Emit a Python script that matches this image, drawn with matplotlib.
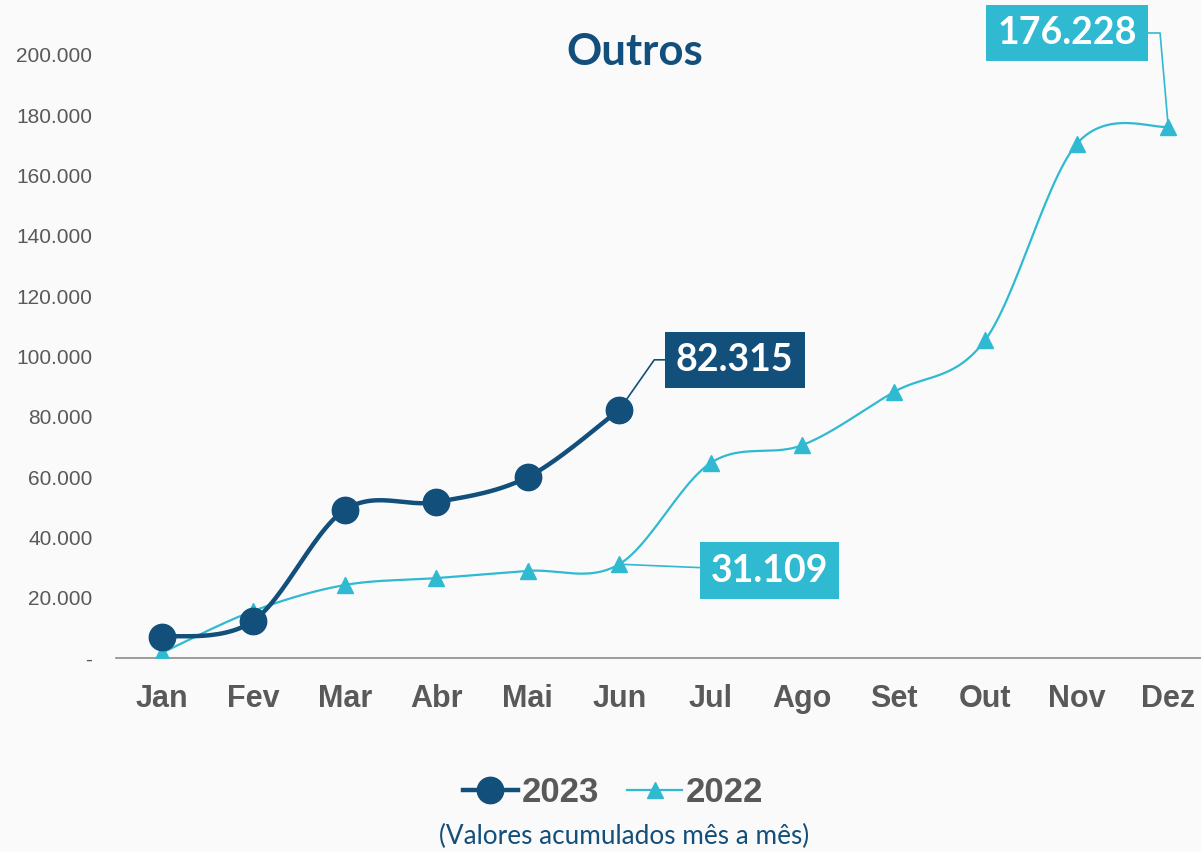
import matplotlib.pyplot as plt
import numpy as np

# dados
meses = ["Jan", "Fev", "Mar", "Abr", "Mai", "Jun", "Jul", "Ago", "Set", "Out", "Nov", "Dez"]
v2023 = [7000, 12300, 49100, 51700, 60000, 82315]
v2022 = [1700, 15600, 24200, 26500, 28900, 31109, 64700, 70600, 88200, 105500, 170500, 176228]
yticks = [0, 20000, 40000, 60000, 80000, 100000, 120000, 140000, 160000, 180000, 200000]

azul = "#124F7B"
ciano = "#2FBAD1"
cinza = "#595959"
fundo = "#FAFAFA"


def suave(x, y, n=30):
    # curva suavizada tipo Excel (Catmull-Rom em Bezier)
    x = np.asarray(x, float)
    y = np.asarray(y, float)
    px = np.concatenate([[x[0]], x, [x[-1]]])
    py = np.concatenate([[y[0]], y, [y[-1]]])
    xs, ys = [], []
    t = np.linspace(0, 1, n)
    for i in range(len(x) - 1):
        p0 = np.array([px[i + 1], py[i + 1]])
        p3 = np.array([px[i + 2], py[i + 2]])
        c1 = p0 + (np.array([px[i + 2], py[i + 2]]) - np.array([px[i], py[i]])) / 6
        c2 = p3 - (np.array([px[i + 3], py[i + 3]]) - np.array([px[i + 1], py[i + 1]])) / 6
        b = (((1 - t) ** 3)[:, None] * p0 + (3 * (1 - t) ** 2 * t)[:, None] * c1
             + (3 * (1 - t) * t ** 2)[:, None] * c2 + (t ** 3)[:, None] * p3)
        xs.extend(b[:, 0])
        ys.extend(b[:, 1])
    return xs, ys


fig = plt.figure(figsize=(12.01, 8.52), dpi=100, facecolor=fundo)
ax = fig.add_axes([116 / 1201, 1 - 658 / 852, 1 - 116 / 1201, (658 - 55) / 852])
ax.set_facecolor(fundo)

x22 = np.arange(len(v2022))
x23 = np.arange(len(v2023))

sx, sy = suave(x22, v2022)
ax.plot(sx, sy, color=ciano, lw=1.6, zorder=2)
ax.plot(x22, v2022, ls="none", marker="^", ms=12, color=ciano, zorder=3)

sx, sy = suave(x23, v2023)
ax.plot(sx, sy, color=azul, lw=3.2, zorder=4)
ax.plot(x23, v2023, ls="none", marker="o", ms=19, color=azul, zorder=5)

ax.set_xlim(-0.5, 11.5 - 13 / 91.45)
ax.set_ylim(0, 200000)
ax.set_xticks(x22)
ax.set_xticklabels(meses, fontsize=22, fontweight="bold", color=cinza, family="Liberation Sans")
ax.set_yticks(yticks)
ax.set_yticklabels(["-" if v == 0 else f"{v:,.0f}".replace(",", ".") for v in yticks],
                   fontsize=15, color=cinza, family="Liberation Sans")
ax.tick_params(axis="both", length=0)
ax.tick_params(axis="x", pad=19)
ax.tick_params(axis="y", pad=17)
for s in ["top", "right", "left"]:
    ax.spines[s].set_visible(False)
ax.spines["bottom"].set_color("#8C8C8C")
ax.spines["bottom"].set_linewidth(1.2)


def rotulo(texto, cor, xy, xytext, ha, conn):
    ax.annotate(texto, xy=xy, xytext=xytext, textcoords="data", ha=ha, va="center",
                fontsize=27, fontweight="bold", color="white", family="Lato",
                bbox=dict(boxstyle="square,pad=0.3", fc=cor, ec="none"),
                arrowprops=dict(arrowstyle="-", color=cor, lw=1.2, connectionstyle=conn,
                                shrinkA=0, shrinkB=0),
                annotation_clip=False, zorder=6)


rotulo(f"{v2023[-1]:,}".replace(",", "."), azul, (5, v2023[-1]), (5.62, 98900), "left",
       "angle,angleA=0,angleB=55,rad=0")
rotulo(f"{v2022[5]:,}".replace(",", "."), ciano, (5, v2022[5]), (6.0, 29000), "left",
       "arc3,rad=0")
rotulo(f"{v2022[-1]:,}".replace(",", "."), ciano, (11, v2022[-1]), (10.66, 207300), "right",
       "angle,angleA=0,angleB=95,rad=0")

fig.text(635 / 1201, 1 - 52 / 852, "Outros", ha="center", va="center", fontsize=31.5,
         fontweight="bold", color=azul, family="Lato")

# legenda
h1, = ax.plot([], [], color=azul, lw=3.2, marker="o", ms=19)
h2, = ax.plot([], [], color=ciano, lw=1.6, marker="^", ms=12)
leg = fig.legend([h1, h2], ["2023", "2022"], loc="center", bbox_to_anchor=(613 / 1201, 1 - 793 / 852),
                 ncol=2, frameon=False, handlelength=1.6, handletextpad=0.1, columnspacing=0.8,
                 prop={"family": "Liberation Sans", "weight": "bold", "size": 25})
for t in leg.get_texts():
    t.set_color(cinza)

fig.text(624 / 1201, 1 - 836 / 852, "(Valores acumulados mês a mês)", ha="center", va="center",
         fontsize=18.8, color=azul, family="Lato")

fig.savefig("out.png", dpi=100, facecolor=fundo)
